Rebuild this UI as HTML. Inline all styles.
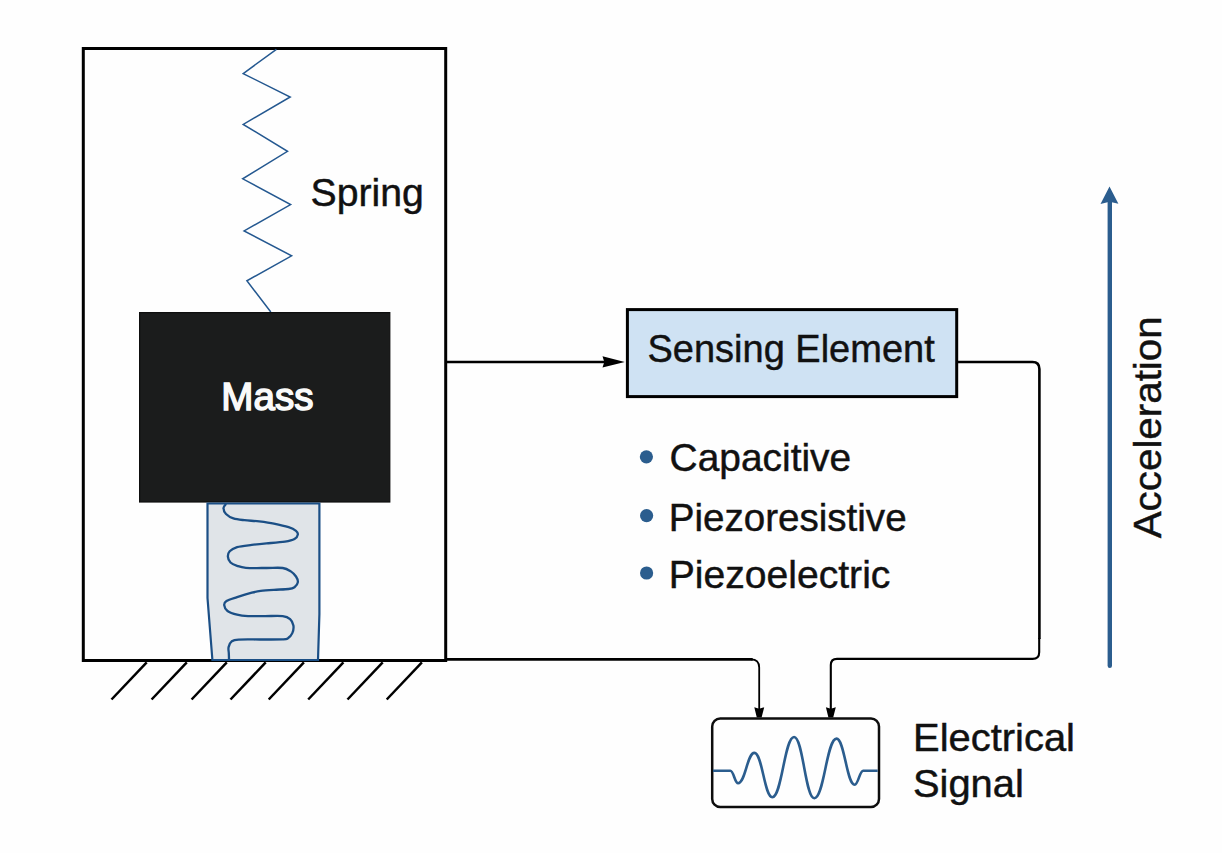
<!DOCTYPE html>
<html><head><meta charset="utf-8">
<style>
html,body{margin:0;padding:0;background:#fefefe;}
body{width:1222px;height:853px;overflow:hidden;}
svg{display:block;}
text{font-family:"Liberation Sans",sans-serif;fill:#111;stroke:#111;stroke-width:0.45px;}
</style></head><body>
<svg width="1222" height="853" viewBox="0 0 1222 853">
<rect x="0" y="0" width="1222" height="853" fill="#fefefe"/>
<!-- outer housing -->
<rect x="83.3" y="48.5" width="362.4" height="612" fill="none" stroke="#000" stroke-width="3"/>
<!-- spring -->
<path d="M276.4,49.3 L243.2,73.6 L290.2,97.0 L243.2,124.4 L287.5,151.3 L242.7,178.8 L290.6,204.6 L244.1,230.9 L291.6,255.8 L246.9,280.8 L270.8,312.0" fill="none" stroke="#245890" stroke-width="1.5" stroke-linejoin="miter"/>
<!-- mass -->
<rect x="139.6" y="312.6" width="250.2" height="189.4" fill="#1b1c1c" stroke="#0e0e0e" stroke-width="1.2"/>
<text x="221.3" y="409.8" textLength="92.2" lengthAdjust="spacingAndGlyphs" style="fill:#fafafa;stroke:#fafafa;stroke-width:1.5px;font-size:38.5px">Mass</text>
<!-- damper -->
<path d="M207.5,503.5 L319.4,503.5 L319.4,614 L318,660 L212.4,660 L207.5,598 Z" fill="#e0e4e8" stroke="#1b4f86" stroke-width="2.2"/>
<path d="M226.0,504.0 C225.6,504.7 223.5,506.4 223.5,508.1 C223.5,509.8 224.3,512.3 226.0,514.0 C227.7,515.7 230.3,517.4 233.4,518.4 C236.5,519.4 240.2,519.7 244.5,520.2 C248.8,520.7 254.3,520.8 259.2,521.4 C264.1,522.0 269.0,522.6 273.9,523.6 C278.8,524.6 284.9,526.0 288.6,527.2 C292.3,528.4 294.5,529.7 296.0,530.9 C297.5,532.1 298.1,533.2 297.8,534.6 C297.6,536.0 296.6,537.8 294.5,539.0 C292.4,540.2 289.7,540.9 285.0,541.6 C280.3,542.3 272.0,542.9 266.5,543.4 C261.0,543.9 256.7,544.3 251.8,544.9 C246.9,545.5 240.8,546.0 237.1,547.1 C233.4,548.2 231.2,549.6 229.7,551.2 C228.2,552.8 227.8,554.7 227.9,556.6 C228.0,558.5 229.0,561.0 230.5,562.5 C232.0,564.0 234.5,564.9 237.1,565.8 C239.7,566.7 241.0,567.4 245.9,567.8 C250.8,568.2 260.4,568.0 266.5,568.0 C272.6,568.0 278.6,567.4 282.7,568.0 C286.8,568.6 288.6,570.0 290.8,571.4 C293.0,572.8 294.8,574.7 296.0,576.5 C297.2,578.3 298.1,580.6 297.8,582.4 C297.6,584.2 296.0,586.1 294.5,587.2 C293.0,588.3 292.0,588.6 288.6,589.0 C285.2,589.4 278.5,589.5 273.9,589.8 C269.2,590.1 264.4,590.4 260.7,590.9 C257.0,591.4 255.7,591.7 251.8,592.7 C247.9,593.7 241.3,595.7 237.1,597.1 C232.9,598.5 228.7,599.6 226.5,601.0 C224.3,602.4 224.0,603.5 224.2,605.2 C224.4,606.9 225.3,609.4 227.5,611.0 C229.7,612.6 233.7,613.9 237.1,614.7 C240.5,615.6 243.4,615.9 248.1,616.1 C252.8,616.3 259.2,616.1 265.0,616.1 C270.8,616.1 278.5,615.6 282.7,616.1 C286.9,616.6 288.3,617.5 290.1,619.1 C291.9,620.7 293.0,623.2 293.4,625.5 C293.8,627.8 293.2,631.0 292.3,633.1 C291.4,635.2 289.5,637.2 287.9,638.3 C286.3,639.3 287.3,639.2 282.7,639.4 C278.1,639.6 267.4,639.5 260.0,639.5 C252.7,639.5 243.3,639.3 238.6,639.6 C233.9,639.9 233.6,640.0 231.9,641.2 C230.2,642.5 229.1,645.1 228.6,647.1 C228.1,649.1 228.7,650.9 228.8,653.0 C228.9,655.1 229.0,658.4 229.0,659.5" fill="none" stroke="#1b4f86" stroke-width="2.3"/>
<!-- ground -->
<g stroke="#000" stroke-width="2.5" stroke-linecap="butt"><line x1="111.5" y1="699.5" x2="146.7" y2="662.4"/><line x1="151.6" y1="699.5" x2="186.8" y2="662.4"/><line x1="191.6" y1="699.5" x2="226.8" y2="662.4"/><line x1="230.5" y1="699.5" x2="265.7" y2="662.4"/><line x1="268.7" y1="699.5" x2="303.9" y2="662.4"/><line x1="308.2" y1="699.5" x2="343.4" y2="662.4"/><line x1="347.5" y1="699.5" x2="382.7" y2="662.4"/><line x1="386.7" y1="699.5" x2="421.9" y2="662.4"/></g>
<!-- wires -->
<g fill="none" stroke="#000">
<path d="M445.7,362 L606,362" stroke-width="2.3"/>
<path d="M445.7,659.3 L752.7,659.3" stroke-width="2.7"/>
<path d="M751,659.3 Q759.2,659.3 759.2,667.5 L759.2,710" stroke-width="1.8"/>
<path d="M958,362 L1032.5,362 Q1039.4,362 1039.4,369 L1039.4,639" stroke-width="2.6"/>
<path d="M1039.2,638 L1039.2,652.3 Q1039.2,658.9 1032.6,658.9 L837,658.9 Q830.8,658.9 830.8,665.1 L830.8,710" stroke-width="2.1"/>
</g>
<path d="M624.8,361.9 L602.5,356.2 L604.3,361.9 L602.5,367.5 Z" fill="#000"/>
<path d="M754.3,707.2 L759.2,708.8 L764.2,707.2 L761.6,717.6 L756.8,717.6 Z" fill="#000"/>
<path d="M825.9,707.2 L830.8,708.8 L835.8,707.2 L833.2,717.6 L828.4,717.6 Z" fill="#000"/>
<!-- sensing element -->
<rect x="627.4" y="309.6" width="329.3" height="87" fill="#cfe2f3" stroke="#000" stroke-width="3"/>
<text x="647.5" y="362.2" textLength="287.2" lengthAdjust="spacingAndGlyphs" style="font-size:39px">Sensing Element</text>
<!-- bullets -->
<circle cx="646.4" cy="456.8" r="6.6" fill="#2b5d8e"/>
<circle cx="646.6" cy="515.6" r="6.6" fill="#2b5d8e"/>
<circle cx="646.6" cy="573" r="6.6" fill="#2b5d8e"/>
<text x="669.6" y="471.4" textLength="181.6" lengthAdjust="spacingAndGlyphs" style="font-size:39.5px">Capacitive</text>
<text x="668.7" y="530.8" textLength="237.9" lengthAdjust="spacingAndGlyphs" style="font-size:38.5px">Piezoresistive</text>
<text x="668.7" y="587.5" textLength="221.7" lengthAdjust="spacingAndGlyphs" style="font-size:38.5px">Piezoelectric</text>
<!-- spring label -->
<text x="310.6" y="206.2" textLength="113.3" lengthAdjust="spacingAndGlyphs" style="font-size:38px">Spring</text>
<!-- electrical signal box -->
<rect x="712.2" y="718.5" width="166.8" height="88.4" rx="8" ry="8" fill="none" stroke="#0d0d0d" stroke-width="2.5"/>
<path d="M713,770.7 L730.3,770.7 C733.7,770.7 734.7,783.2 738.1,783.2 C745.3,783.2 747.2,752.9 754.4,752.9 C762.3,752.9 764.4,797.2 772.3,797.2 C781.9,797.2 784.5,737.0 794.1,737.0 C803.0,737.0 805.4,798.3 814.3,798.3 C824.1,798.3 826.7,738.6 836.5,738.6 C844.5,738.6 846.7,784.7 854.7,784.7 C858.4,784.7 859.5,770.7 863.2,770.7 L877.7,770.7" fill="none" stroke="#2b5d8e" stroke-width="2.6"/>
<text x="913.1" y="751" textLength="161.9" lengthAdjust="spacingAndGlyphs" style="font-size:38px">Electrical</text>
<text x="913" y="796.6" textLength="110.8" lengthAdjust="spacingAndGlyphs" style="font-size:38px">Signal</text>
<!-- acceleration arrow -->
<line x1="1109.8" y1="665.8" x2="1109.8" y2="200" stroke="#2b5d8e" stroke-width="4.4" stroke-linecap="round"/>
<path d="M1109.5,186.4 L1118.4,203.8 L1109.5,201.7 L1100.5,204 Z" fill="#2b5d8e"/>
<text transform="translate(1161,538.3) rotate(-90)" x="0" y="0" textLength="222" lengthAdjust="spacingAndGlyphs" style="font-size:39.5px">Acceleration</text>
</svg>
</body></html>
